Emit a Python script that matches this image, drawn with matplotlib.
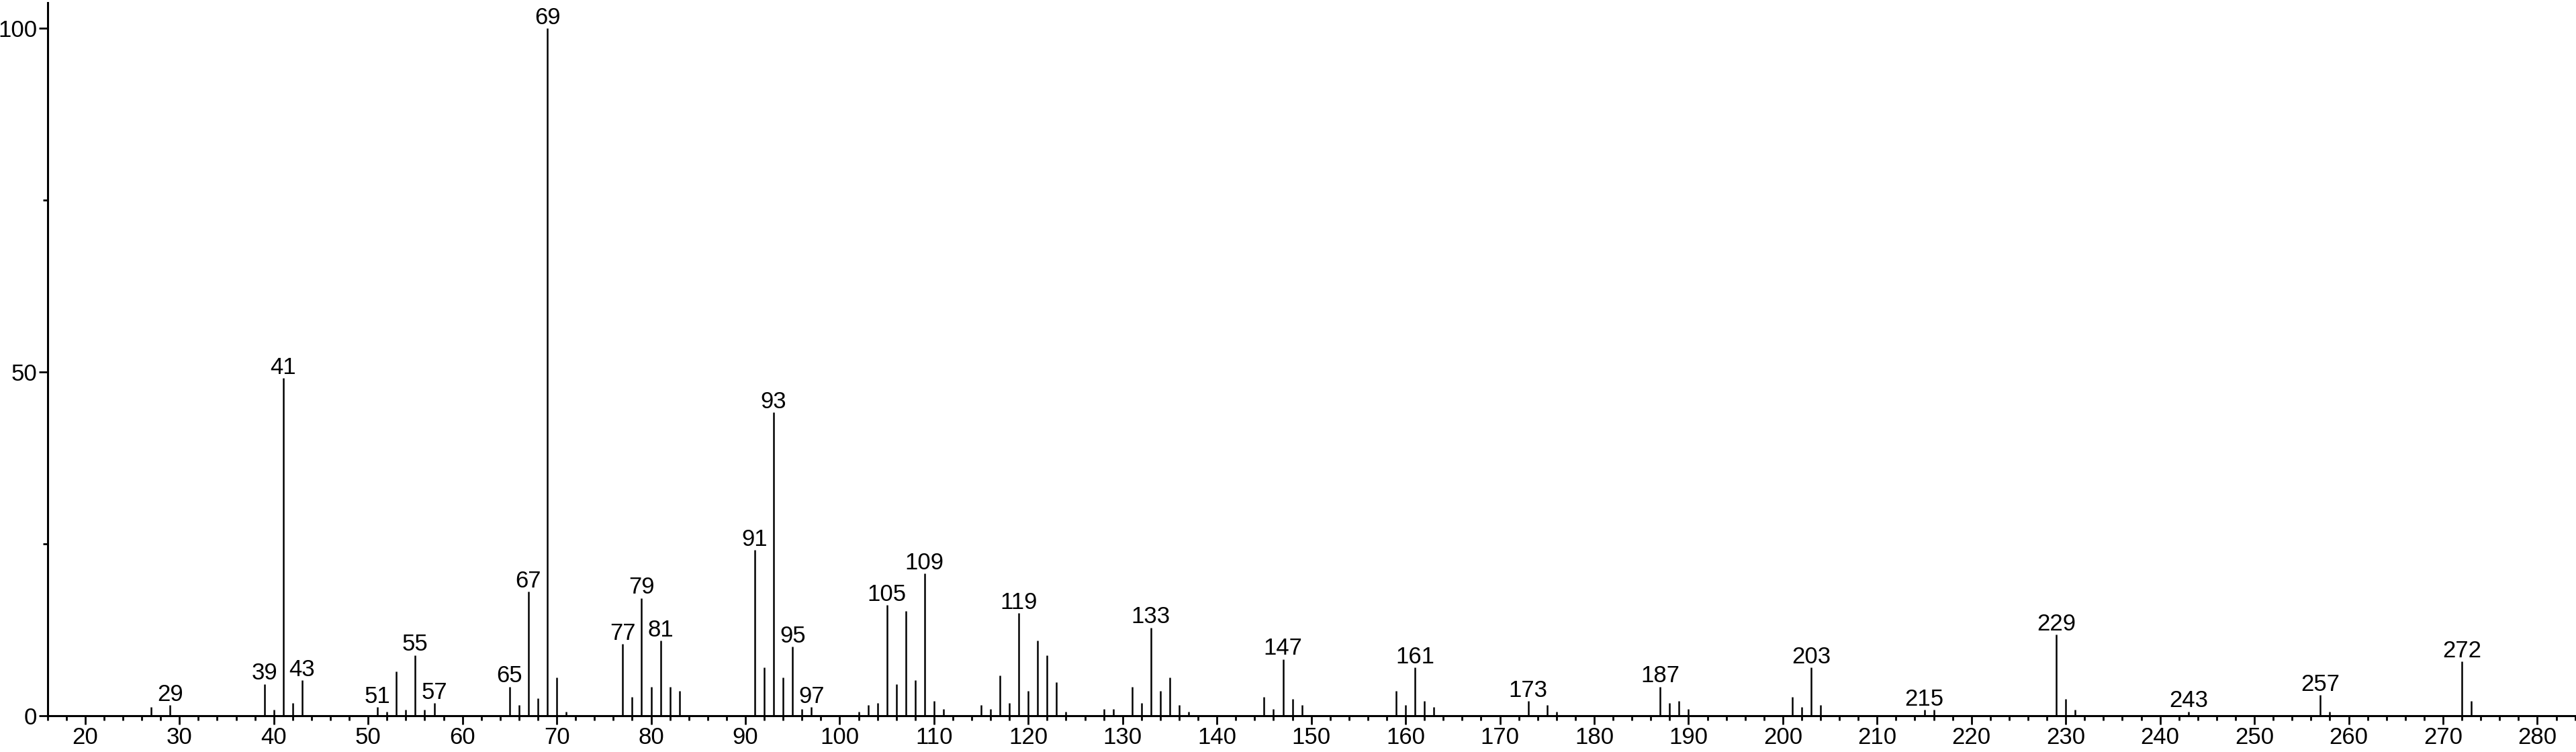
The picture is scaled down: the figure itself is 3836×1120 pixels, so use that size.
import matplotlib
matplotlib.use("Agg")
import matplotlib.pyplot as plt
from matplotlib.ticker import MultipleLocator

mz = [27, 29, 39, 40, 41, 42, 43, 51, 52, 53, 54, 55, 56, 57,
      65, 66, 67, 68, 69, 70, 71, 77, 78, 79, 80, 81, 82, 83,
      91, 92, 93, 94, 95, 96, 97, 102, 103, 104, 105, 106, 107, 108, 109, 110, 111,
      115, 116, 117, 118, 119, 120, 121, 122, 123, 124,
      128, 129, 131, 132, 133, 134, 135, 136, 137,
      145, 146, 147, 148, 149, 159, 160, 161, 162, 163,
      173, 175, 176, 187, 188, 189, 190, 201, 202, 203, 204,
      215, 216, 229, 230, 231, 243, 257, 258, 272, 273]
intensity = [1.2, 1.5, 4.6, 0.85, 49.1, 1.8, 5.1, 1.2, 0.6, 6.4, 0.85, 8.8, 0.85, 1.8,
             4.2, 1.5, 18.0, 2.5, 100.0, 5.5, 0.6, 10.4, 2.7, 17.1, 4.2, 10.9, 4.2, 3.6,
             24.1, 7.0, 44.1, 5.5, 10.0, 0.9, 1.2, 0.6, 1.5, 1.8, 16.1, 4.6, 15.2, 5.1, 20.7, 2.1, 0.9,
             1.5, 0.9, 5.8, 1.8, 14.9, 3.6, 10.9, 8.8, 4.9, 0.6,
             0.9, 0.9, 4.2, 1.8, 12.8, 3.6, 5.5, 1.5, 0.6,
             2.7, 0.9, 8.2, 2.4, 1.5, 3.6, 1.5, 7.0, 2.1, 1.2,
             2.1, 1.5, 0.6, 4.2, 1.8, 2.1, 0.9, 2.7, 1.2, 7.0, 1.5,
             0.85, 0.85, 11.8, 2.4, 0.85, 0.6, 3.0, 0.6, 7.9, 2.1]
labeled_mz = [29, 39, 41, 43, 51, 55, 57, 65, 67, 69, 77, 79, 81, 91, 93, 95, 97,
              105, 109, 119, 133, 147, 161, 173, 187, 203, 215, 229, 243, 257, 272]
x_major = list(range(20, 281, 10))
y_major = [0, 50, 100]

plt.rcParams['font.family'] = ['Liberation Sans', 'DejaVu Sans']

W, H, DPI = 3836, 1120, 100
fig = plt.figure(figsize=(W / DPI, H / DPI), dpi=DPI)
ax_left = 70.7 / W
ax_bottom = (H - 1065.7) / H
ax_top = (H - 4) / H
ax = fig.add_axes([ax_left, ax_bottom, 1.0 - ax_left, ax_top - ax_bottom])

ax.vlines(mz, 0, intensity, colors='black', linewidth=1.8)

lookup = dict(zip(mz, intensity))
for m in labeled_mz:
    ax.annotate(str(m), xy=(m, lookup[m]), xytext=(0, 4.5), textcoords='offset points',
                ha='center', va='baseline', fontsize=25, color='black', clip_on=False)

ax.set_xlim(16, 284.1)
ax.set_ylim(0, 103.7)

for s in ['top', 'right']:
    ax.spines[s].set_visible(False)
for s in ['left', 'bottom']:
    ax.spines[s].set_linewidth(2.2)
    ax.spines[s].set_color('black')

ax.set_xticks(x_major)
ax.set_xticklabels([str(v) for v in x_major])
ax.xaxis.set_minor_locator(MultipleLocator(2))
ax.set_yticks(y_major)
ax.set_yticklabels([str(v) for v in y_major])
ax.yaxis.set_minor_locator(MultipleLocator(25))

ax.tick_params(axis='both', which='major', direction='out', length=9.5, width=2.0,
               labelsize=25, colors='black')
ax.tick_params(axis='both', which='minor', direction='out', length=5, width=2.0)
ax.tick_params(axis='x', which='major', pad=2)
ax.tick_params(axis='y', which='major', pad=1.5)

fig.savefig('out.png', dpi=DPI, facecolor='white')
